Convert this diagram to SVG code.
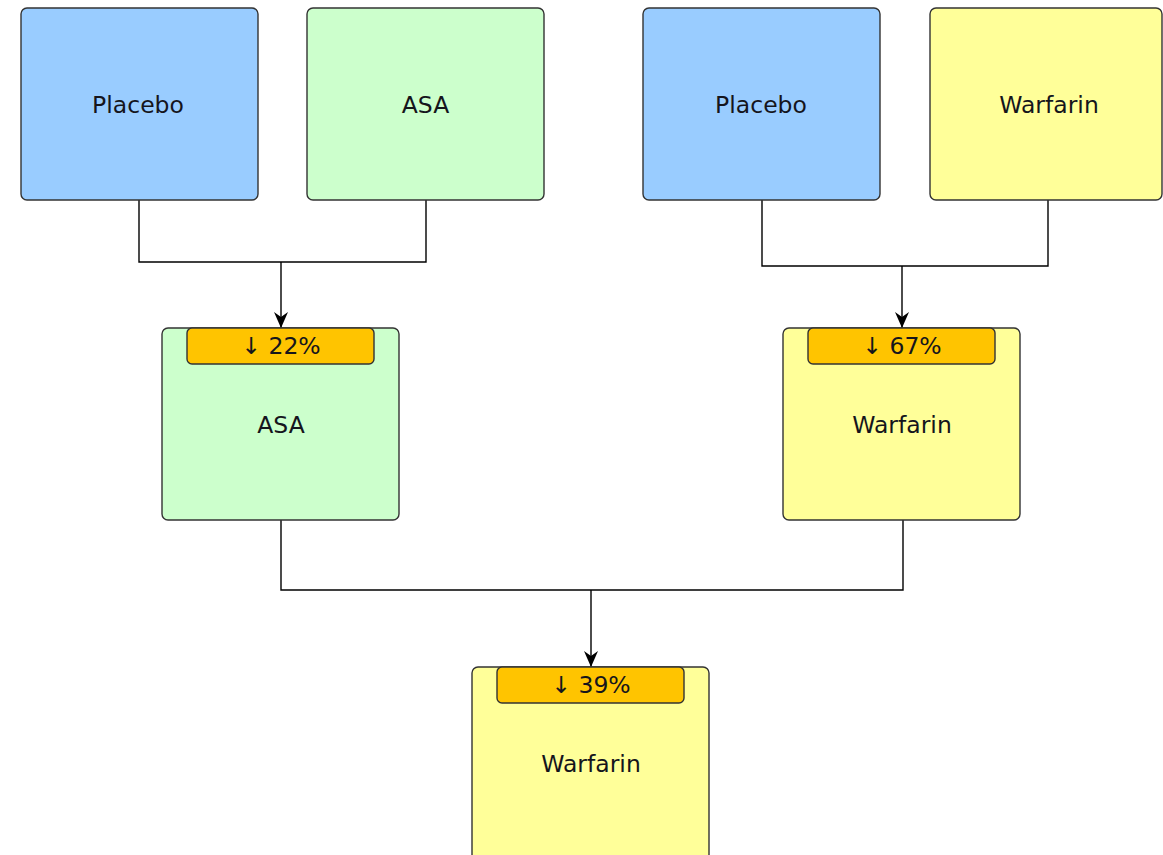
<svg xmlns="http://www.w3.org/2000/svg" width="1163" height="855" viewBox="0 0 1163 855">
<style>
.box{stroke:#333;stroke-width:1.4}
.blue{fill:#99CCFF}
.green{fill:#CCFFCC}
.yellow{fill:#FFFF99}
.badge{fill:#FFC400;stroke:#333;stroke-width:1.4}
text{font-family:"DejaVu Sans",Verdana,sans-serif;font-size:23.5px;fill:#15151c;text-anchor:middle;dominant-baseline:central}
.conn{fill:none;stroke:#000;stroke-width:1.4}
</style>
<defs>
<marker id="arr" viewBox="0 0 16 14" refX="16" refY="7" markerWidth="16" markerHeight="14" markerUnits="userSpaceOnUse" orient="auto">
<path d="M0,0 L16,7 L0,14 L5,7 Z" fill="#000"/>
</marker>
</defs>
<rect width="1163" height="855" fill="#fff"/>
<g id="connectors">
<polyline class="conn" points="139,200 139,262 426,262 426,200"/>
<line class="conn" x1="281" y1="262" x2="281" y2="328" marker-end="url(#arr)"/>
<polyline class="conn" points="762,200 762,266 1048,266 1048,200"/>
<line class="conn" x1="902" y1="266" x2="902" y2="328" marker-end="url(#arr)"/>
<polyline class="conn" points="281,520 281,590 903,590 903,520"/>
<line class="conn" x1="591" y1="590" x2="591" y2="667" marker-end="url(#arr)"/>
</g>
<g id="placebo1">
<rect class="box blue" x="21" y="8" width="237" height="192" rx="6"/>
<text x="138" y="105">Placebo</text>
</g>
<g id="asa1">
<rect class="box green" x="307" y="8" width="237" height="192" rx="6"/>
<text x="425.5" y="105">ASA</text>
</g>
<g id="placebo2">
<rect class="box blue" x="643" y="8" width="237" height="192" rx="6"/>
<text x="761" y="105">Placebo</text>
</g>
<g id="warfarin1">
<rect class="box yellow" x="930" y="8" width="232" height="192" rx="6"/>
<text x="1049" y="105">Warfarin</text>
</g>
<g id="asa2">
<rect class="box green" x="162" y="328" width="237" height="192" rx="6"/>
<rect class="badge" x="187" y="328" width="187" height="36" rx="5"/>
<text x="281" y="346">↓ 22%</text>
<text x="281" y="425">ASA</text>
</g>
<g id="warfarin2">
<rect class="box yellow" x="783" y="328" width="237" height="192" rx="6"/>
<rect class="badge" x="808" y="328" width="187" height="36" rx="5"/>
<text x="902" y="346">↓ 67%</text>
<text x="902" y="425">Warfarin</text>
</g>
<g id="warfarin3">
<rect class="box yellow" x="472" y="667" width="237" height="200" rx="6"/>
<rect class="badge" x="497" y="667" width="187" height="36" rx="5"/>
<text x="591" y="685">↓ 39%</text>
<text x="591" y="764">Warfarin</text>
</g>
</svg>
